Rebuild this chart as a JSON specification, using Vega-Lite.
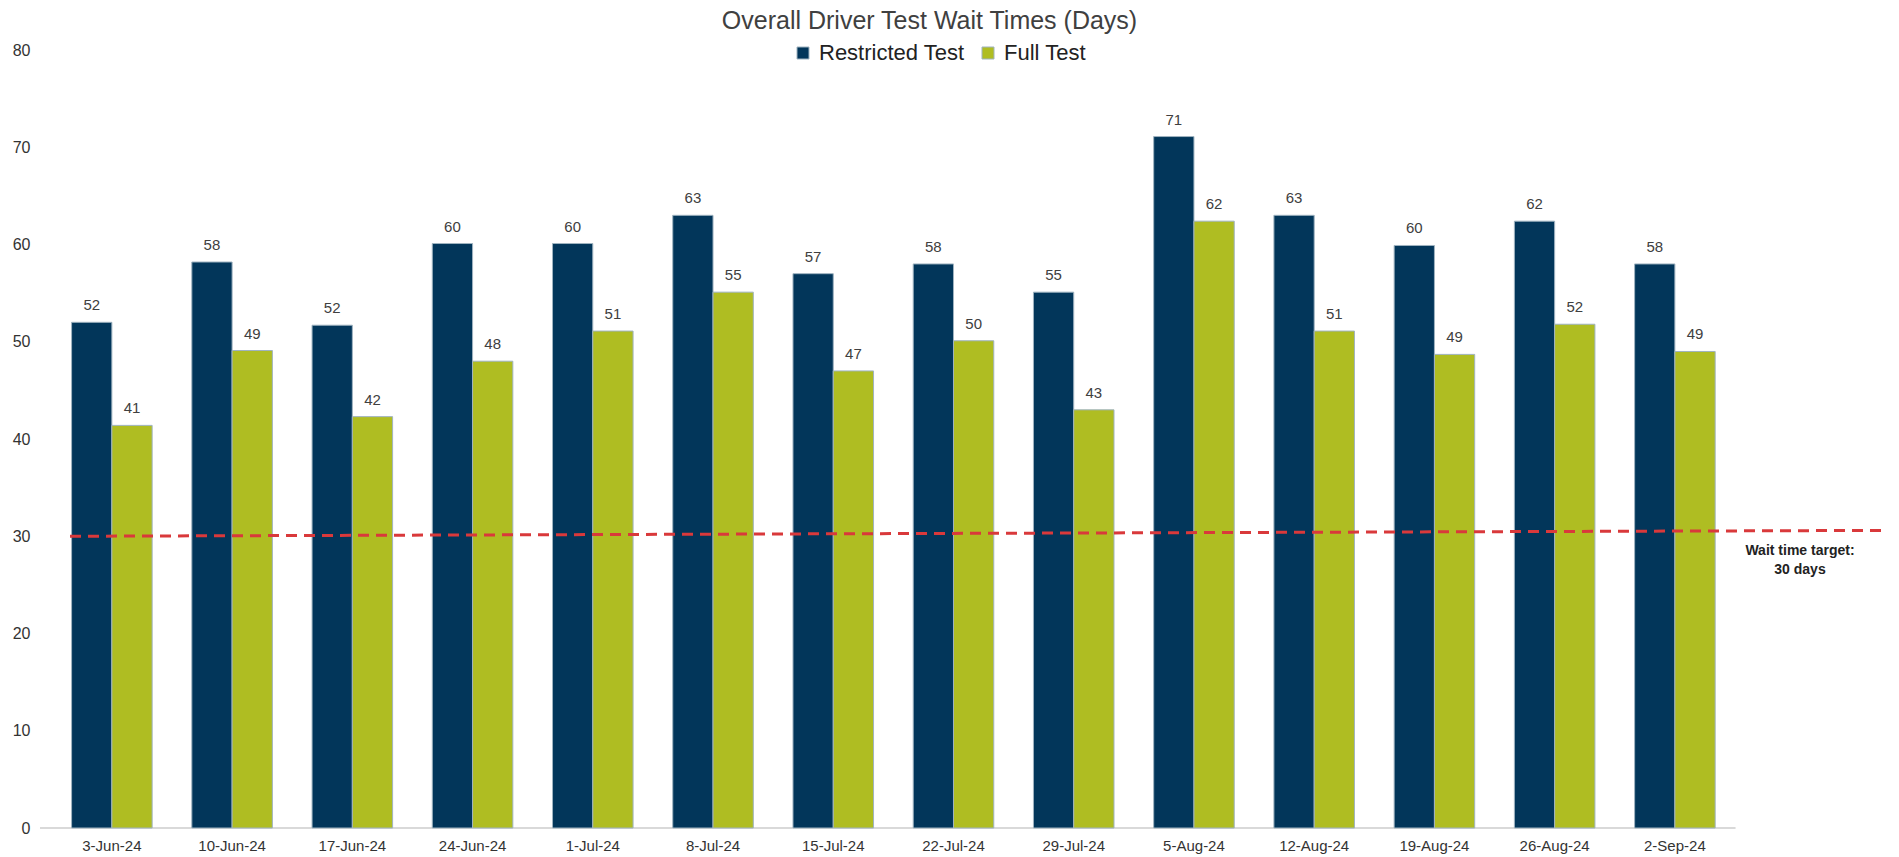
{
  "$schema": "https://vega.github.io/schema/vega-lite/v6.json",
  "autosize": "none",
  "width": 1841,
  "height": 778,
  "padding": {"left": 40, "top": 50, "right": 18, "bottom": 29},
  "background": "white",
  "config": {
    "view": {"stroke": null},
    "font": "Liberation Sans"
  },
  "title": {
    "text": "Overall Driver Test Wait Times (Days)",
    "fontSize": 25,
    "fontWeight": "normal",
    "color": "#404040",
    "anchor": "middle",
    "dx": -31,
    "offset": 8
  },
  "datasets": {
    "bars": [
      {"week": "3-Jun-24", "series": "Restricted Test", "days": 52.0},
      {"week": "3-Jun-24", "series": "Full Test", "days": 41.4},
      {"week": "10-Jun-24", "series": "Restricted Test", "days": 58.2},
      {"week": "10-Jun-24", "series": "Full Test", "days": 49.1},
      {"week": "17-Jun-24", "series": "Restricted Test", "days": 51.7},
      {"week": "17-Jun-24", "series": "Full Test", "days": 42.3},
      {"week": "24-Jun-24", "series": "Restricted Test", "days": 60.1},
      {"week": "24-Jun-24", "series": "Full Test", "days": 48.0},
      {"week": "1-Jul-24", "series": "Restricted Test", "days": 60.1},
      {"week": "1-Jul-24", "series": "Full Test", "days": 51.1},
      {"week": "8-Jul-24", "series": "Restricted Test", "days": 63.0},
      {"week": "8-Jul-24", "series": "Full Test", "days": 55.1},
      {"week": "15-Jul-24", "series": "Restricted Test", "days": 57.0},
      {"week": "15-Jul-24", "series": "Full Test", "days": 47.0},
      {"week": "22-Jul-24", "series": "Restricted Test", "days": 58.0},
      {"week": "22-Jul-24", "series": "Full Test", "days": 50.1},
      {"week": "29-Jul-24", "series": "Restricted Test", "days": 55.1},
      {"week": "29-Jul-24", "series": "Full Test", "days": 43.0},
      {"week": "5-Aug-24", "series": "Restricted Test", "days": 71.1},
      {"week": "5-Aug-24", "series": "Full Test", "days": 62.4},
      {"week": "12-Aug-24", "series": "Restricted Test", "days": 63.0},
      {"week": "12-Aug-24", "series": "Full Test", "days": 51.1},
      {"week": "19-Aug-24", "series": "Restricted Test", "days": 59.9},
      {"week": "19-Aug-24", "series": "Full Test", "days": 48.7},
      {"week": "26-Aug-24", "series": "Restricted Test", "days": 62.4},
      {"week": "26-Aug-24", "series": "Full Test", "days": 51.8},
      {"week": "2-Sep-24", "series": "Restricted Test", "days": 58.0},
      {"week": "2-Sep-24", "series": "Full Test", "days": 49.0}
    ],
    "target": [
      {"t": 0.0163, "v": 30.0},
      {"t": 1.0, "v": 30.6}
    ],
    "base": [
      {"t": 0, "t2": 0.921, "v": 0}
    ],
    "note": [
      {"t": 0.956, "v": 28.5, "label": ["Wait time target:", "30 days"]}
    ]
  },
  "layer": [
    {
      "data": {"name": "base"},
      "mark": {"type": "rule", "color": "#d9d9d9", "strokeWidth": 2},
      "encoding": {
        "x": {"field": "t", "type": "quantitative", "scale": {"domain": [0, 1]}, "axis": null},
        "x2": {"field": "t2"},
        "y": {
          "field": "v", "type": "quantitative", "title": null,
          "scale": {"domain": [0, 80]},
          "axis": {"values": [0, 10, 20, 30, 40, 50, 60, 70, 80], "grid": false, "domain": false, "ticks": false, "labelFontSize": 16, "labelColor": "#333333", "labelPadding": 10}
        }
      }
    },
    {
      "data": {"name": "bars"},
      "layer": [
        {
          "mark": {"type": "bar", "stroke": "#9fb3c0", "strokeWidth": 1},
          "encoding": {
            "x": {
              "field": "week", "type": "nominal", "sort": null, "title": null,
              "scale": {"paddingInner": 0.33, "paddingOuter": 0.821, "align": 0.16},
              "axis": {"labelAngle": 0, "labelFontSize": 15, "labelColor": "#333333", "domain": false, "ticks": false, "labelPadding": 10}
            },
            "xOffset": {"field": "series", "type": "nominal", "sort": ["Restricted Test", "Full Test"], "scale": {"paddingInner": 0, "paddingOuter": 0}},
            "y": {"field": "days", "type": "quantitative", "title": null},
            "color": {
              "field": "series", "type": "nominal", "sort": ["Restricted Test", "Full Test"],
              "scale": {"domain": ["Restricted Test", "Full Test"], "range": ["#02365a", "#afbd22"]},
              "legend": {
                "title": null, "orient": "none", "direction": "horizontal",
                "legendX": 752, "legendY": -8,
                "symbolType": "square", "symbolSize": 144, "symbolStrokeColor": "#9fb3c0", "symbolStrokeWidth": 1,
                "labelFontSize": 22, "labelColor": "#222222", "columnPadding": 12, "labelOffset": 5
              }
            }
          }
        },
        {
          "mark": {"type": "text", "dy": -9, "fontSize": 15, "color": "#404040", "baseline": "bottom"},
          "encoding": {
            "x": {"field": "week", "type": "nominal", "sort": null},
            "xOffset": {"field": "series", "type": "nominal", "sort": ["Restricted Test", "Full Test"]},
            "y": {"field": "days", "type": "quantitative"},
            "text": {"field": "days", "type": "quantitative", "format": ".0f"}
          }
        }
      ]
    },
    {
      "data": {"name": "target"},
      "mark": {"type": "line", "color": "#d9393b", "strokeWidth": 3, "strokeDash": [11, 7]},
      "encoding": {
        "x": {"field": "t", "type": "quantitative", "scale": {"domain": [0, 1]}, "axis": null},
        "y": {"field": "v", "type": "quantitative"}
      }
    },
    {
      "data": {"name": "note"},
      "mark": {"type": "text", "fontSize": 14, "fontWeight": "bold", "color": "#222222", "align": "center", "baseline": "middle", "lineHeight": 19},
      "encoding": {
        "x": {"field": "t", "type": "quantitative", "scale": {"domain": [0, 1]}, "axis": null},
        "y": {"field": "v", "type": "quantitative"},
        "text": {"field": "label"}
      }
    }
  ],
  "resolve": {"scale": {"x": "independent"}}
}
